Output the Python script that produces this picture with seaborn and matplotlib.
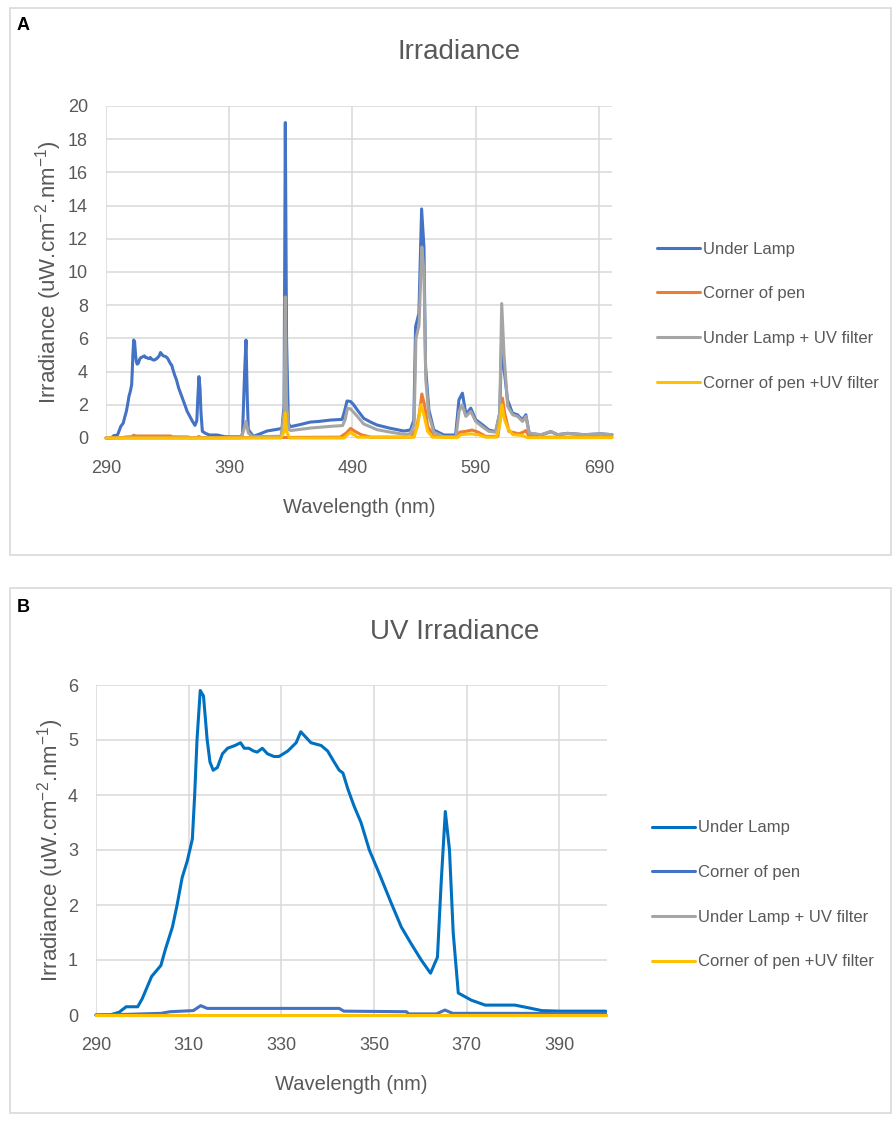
"""
Irradiance spectra of the lamp set-up (panel A: full range, panel B: UV zoom).
Values are read off the published figure.
"""
import matplotlib
matplotlib.use("Agg")
import matplotlib.pyplot as plt
import pandas as pd
import seaborn as sns
from matplotlib.patches import Rectangle

sns.set_theme(style="white")
plt.rcParams["font.family"] = ["Liberation Sans", "DejaVu Sans"]
plt.rcParams["mathtext.fontset"] = "custom"
plt.rcParams["mathtext.rm"] = "Liberation Sans"
plt.rcParams["mathtext.default"] = "regular"

TXT = "#595959"
GRID = "#d9d9d9"

# --- UV part of the spectrum (shared by A and B) ---------------------------
uv_wl = [290, 293, 295, 296.5, 299, 300, 301, 302, 304, 305,
         306.5, 307.5, 308.6, 309.7, 310.8, 311.3, 311.8, 312.5, 313.2, 314,
         314.6, 315.3, 316.2, 317.3, 318.4, 320, 321.2, 322, 323, 324,
         324.8, 325.9, 327, 328.4, 329.5, 331.4, 333.2, 334.2, 335.3, 336.4,
         338.6, 340, 341.4, 342.5, 343.3, 344.4, 345.7, 347.2, 349, 351.1,
         353.7, 355.9, 358, 360.2, 362.2, 363.7, 364.5, 365.4, 366.3, 367.1,
         368.2, 371, 374, 380.4, 383.4, 386.2, 390, 395, 400]
uv_lamp = [0, 0, 0.05, 0.15, 0.15, 0.3, 0.5, 0.7, 0.9, 1.2,
           1.6, 2.0, 2.5, 2.8, 3.2, 4.0, 5.0, 5.9, 5.8, 5.0,
           4.6, 4.45, 4.5, 4.75, 4.85, 4.9, 4.95, 4.85, 4.85, 4.8,
           4.78, 4.85, 4.75, 4.7, 4.7, 4.8, 4.95, 5.15, 5.05, 4.95,
           4.9, 4.8, 4.6, 4.45, 4.4, 4.1, 3.8, 3.5, 3.0, 2.58,
           2.04, 1.6, 1.3, 1.0, 0.76, 1.05, 2.4, 3.7, 3.0, 1.5,
           0.4, 0.27, 0.18, 0.18, 0.13, 0.08, 0.07, 0.07, 0.07]

pen_uv_wl = [290, 296, 304, 306, 311, 312.6, 314, 342.5, 343.5, 357,
             357.5, 363.5, 365.3, 367, 400]
pen_uv = [0, 0.01, 0.03, 0.06, 0.08, 0.17, 0.12, 0.12, 0.07, 0.06,
          0.02, 0.02, 0.09, 0.03, 0.03]

uv_filt_wl = [290, 400]
uv_filt = [0.0, 0.0]
uv_pen_filt_wl = [290, 400]
uv_pen_filt = [0.0, 0.0]

# --- visible part (panel A only) --------------------------------------------
vis_wl = [400.8, 402.5, 403.6, 404.6, 405.5, 409.6, 415, 420.6, 428.7, 432.8,
          434.5, 435.5, 436.5, 438, 439.6, 447, 455.8, 463, 472, 481.6,
          483.5, 485.6, 488.4, 491, 493.8, 499.2, 505, 510, 521, 531.7,
          537, 539.8, 541.2, 543.9, 546.1, 548, 549.3, 552, 556, 564.2,
          573.7, 576.4, 579.2, 581.9, 584, 586, 590, 595.4, 600.7, 606.3,
          609.5, 611.1, 612.5, 615.8, 619.8, 623.8, 627.9, 630.7, 633.4, 642.9,
          651, 656.5, 664.5, 678, 691.5, 700.6]
vis_lamp = [0.3, 4.0, 5.9, 2.5, 0.5, 0.1, 0.25, 0.42, 0.52, 0.58,
            2.0, 19.0, 6.0, 0.9, 0.68, 0.8, 0.96, 1.0, 1.08, 1.12,
            1.6, 2.23, 2.2, 2.0, 1.7, 1.18, 0.95, 0.78, 0.58, 0.42,
            0.48, 1.08, 6.7, 7.5, 13.8, 11.5, 4.3, 1.7, 0.48, 0.18,
            0.18, 2.3, 2.7, 1.5, 1.6, 1.8, 1.1, 0.8, 0.48, 0.38,
            1.5, 6.0, 4.5, 2.3, 1.5, 1.4, 1.1, 1.4, 0.28, 0.18,
            0.38, 0.2, 0.28, 0.2, 0.25, 0.2]

filt_wl = [290, 399, 401.5, 403.6, 405.5, 409, 432, 434.5, 435.5, 436.5,
           438.5, 440, 456, 472, 482, 484, 486, 488.5, 494, 499,
           510, 521, 532, 537, 540, 541.5, 544, 546.3, 548, 549.5,
           552, 556, 564, 574, 576.5, 579, 582, 586, 590, 595,
           600.7, 606, 609.5, 611.1, 613, 616, 620, 624, 628, 630.7,
           633.4, 643, 651, 656.5, 664.5, 678, 691.5, 700.6]
filt_lamp = [0, 0, 0.4, 1.0, 0.3, 0.08, 0.1, 1.5, 8.5, 2.0,
             0.5, 0.45, 0.6, 0.7, 0.75, 1.1, 1.8, 1.75, 1.3, 0.85,
             0.5, 0.35, 0.22, 0.25, 0.8, 6.0, 6.8, 11.5, 10.0, 3.5,
             1.4, 0.35, 0.08, 0.08, 1.6, 2.0, 1.3, 1.6, 1.0, 0.7,
             0.4, 0.35, 1.5, 8.1, 5.0, 1.9, 1.4, 1.3, 1.0, 1.3,
             0.3, 0.2, 0.4, 0.2, 0.28, 0.2, 0.25, 0.2]

pen_vis_wl = [400.5, 480, 485, 488.5, 492, 497, 505, 538, 542, 544.5,
              546.3, 548.5, 551, 556, 574, 577, 582, 587, 592, 598,
              608, 610, 611.7, 613.5, 617, 625, 628.5, 630.6, 633, 640,
              700.6]
pen_vis = [0.02, 0.05, 0.3, 0.58, 0.4, 0.2, 0.05, 0.05, 0.6, 1.6,
           2.65, 2.0, 0.7, 0.1, 0.05, 0.35, 0.4, 0.48, 0.35, 0.1,
           0.1, 1.2, 2.4, 1.5, 0.4, 0.25, 0.35, 0.45, 0.15, 0.05,
           0.05]

pen_filt_wl = [290, 432, 434.5, 435.5, 436.5, 439, 483, 488.5, 494, 540,
               543, 545.5, 548, 551, 555, 575, 578, 585, 592, 598,
               607, 609.5, 611.3, 613, 616, 620, 628, 632, 700.6]
pen_filt = [0, 0, 0.4, 1.5, 0.4, 0, 0, 0.35, 0.05, 0.05,
            0.8, 2.0, 1.4, 0.4, 0.05, 0.02, 0.2, 0.25, 0.2, 0.05,
            0.05, 0.8, 2.0, 1.2, 0.6, 0.2, 0.15, 0.02, 0.02]

labels = ["Under Lamp", "Corner of pen", "Under Lamp + UV filter", "Corner of pen +UV filter"]
colors_a = ["#4472C4", "#ED7D31", "#A5A5A5", "#FFC000"]
colors_b = ["#0070C0", "#4472C4", "#A5A5A5", "#FFC000"]

YLABEL = r"Irradiance (uW.cm$^{-2}$.nm$^{-1}$)"


def long_form(parts):
    frames = [pd.DataFrame({"wavelength": wl, "irradiance": val, "series": name})
              for name, wl, val in parts]
    return pd.concat(frames, ignore_index=True)


def draw_panel(ax, df, colors, xticks, yticks, xlim, ylim, leg_anchor, ylab_x):
    sns.lineplot(data=df, x="wavelength", y="irradiance", hue="series",
                 hue_order=labels, palette=dict(zip(labels, colors)),
                 estimator=None, sort=False, lw=2.2, clip_on=False, ax=ax)
    ax.set(xlim=xlim, ylim=ylim, xticks=xticks, yticks=yticks)
    for s in ax.spines.values():
        s.set_visible(False)
    ax.grid(True, color=GRID, lw=1.1)
    ax.set_axisbelow(True)
    ax.tick_params(axis="x", length=0, pad=16, labelsize=13, colors=TXT)
    ax.tick_params(axis="y", length=0, pad=13, labelsize=13, colors=TXT)
    ax.set_xlabel("Wavelength (nm)", fontsize=14.5, color=TXT, labelpad=15)
    ax.set_ylabel(YLABEL, fontsize=16, color=TXT)
    ax.yaxis.set_label_coords(ylab_x, 0.5)
    sns.move_legend(ax, "center left", bbox_to_anchor=leg_anchor, frameon=False,
                    title=None, fontsize=12, handlelength=2.6, handletextpad=0.15,
                    labelspacing=1.78, borderpad=0, borderaxespad=0, labelcolor=TXT)


fig = plt.figure(figsize=(8.92, 11.26), dpi=100)
W, H = 892, 1126

# panel frames
for y0, y1 in [(8, 555), (588, 1113)]:
    fig.add_artist(Rectangle((10 / W, 1 - y1 / H), (891 - 10) / W, (y1 - y0) / H,
                             transform=fig.transFigure, fill=False, ec=GRID, lw=1.2))

# A: full spectrum
ax_a = fig.add_axes([106 / W, 1 - 438 / H, 506 / W, 332 / H])
df_a = long_form([
    (labels[0], uv_wl + vis_wl, uv_lamp + vis_lamp),
    (labels[1], pen_uv_wl + pen_vis_wl, pen_uv + pen_vis),
    (labels[2], filt_wl, filt_lamp),
    (labels[3], pen_filt_wl, pen_filt),
])
draw_panel(ax_a, df_a, colors_a, range(290, 691, 100), range(0, 21, 2),
           (290, 700.6), (0, 20), (1.089, 0.367), -0.083)

# B: UV only
ax_b = fig.add_axes([96 / W, 1 - 1015 / H, 511 / W, 330 / H])
df_b = long_form([
    (labels[0], uv_wl, uv_lamp),
    (labels[1], pen_uv_wl, pen_uv),
    (labels[2], uv_filt_wl, uv_filt),
    (labels[3], uv_pen_filt_wl, uv_pen_filt),
])
draw_panel(ax_b, df_b, colors_b, range(290, 391, 20), range(0, 7, 1),
           (290, 400.3), (0, 6), (1.088, 0.364), -0.058)

fig.text(459 / W, 1 - 52 / H, "Irradiance", fontsize=20, color=TXT, ha="center", va="center")
fig.text(455 / W, 1 - 632 / H, "UV Irradiance", fontsize=20, color=TXT, ha="center", va="center")
fig.text(17 / W, 1 - 26 / H, "A", fontsize=13, fontweight="bold", color="black", va="center")
fig.text(17 / W, 1 - 607 / H, "B", fontsize=13, fontweight="bold", color="black", va="center")

fig.savefig("out.png", dpi=100, facecolor="white")
